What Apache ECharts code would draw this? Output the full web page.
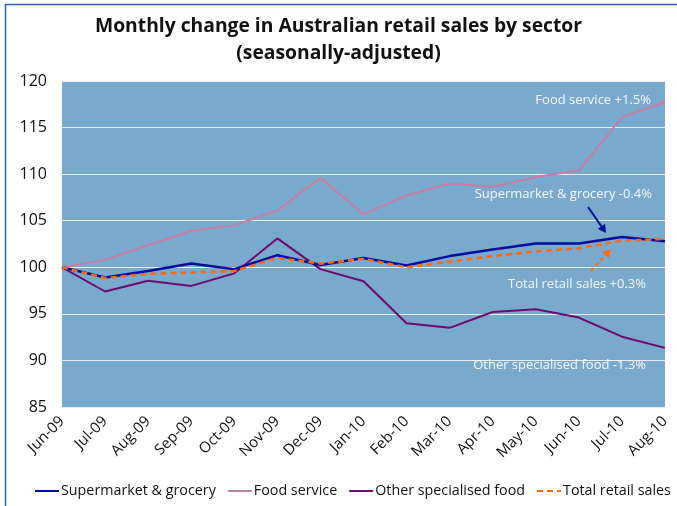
<!DOCTYPE html>
<html><head><meta charset="utf-8">
<script src="https://cdn.jsdelivr.net/npm/echarts@6/dist/echarts.min.js"></script>
<style>html,body{margin:0;padding:0;background:#fff}#c{width:677px;height:506px}</style>
</head><body><div id="c"></div>
<script>
var categories = ['Jun-09','Jul-09','Aug-09','Sep-09','Oct-09','Nov-09','Dec-09','Jan-10','Feb-10','Mar-10','Apr-10','May-10','Jun-10','Jul-10','Aug-10'];
var supermarket = [100, 98.9, 99.6, 100.4, 99.8, 101.3, 100.25, 101.0, 100.2, 101.2, 101.9, 102.55, 102.55, 103.25, 102.8];
var foodService = [100, 100.8, 102.4, 103.9, 104.5, 106.1, 109.6, 105.7, 107.7, 109.0, 108.65, 109.7, 110.4, 116.1, 117.75];
var otherFood = [100, 97.4, 98.55, 98.0, 99.35, 103.1, 99.8, 98.5, 94.0, 93.5, 95.2, 95.5, 94.6, 92.55, 91.35];
var totalRetail = [100, 98.85, 99.3, 99.45, 99.6, 101.0, 100.4, 100.9, 100.0, 100.6, 101.2, 101.7, 102.05, 102.85, 103.05];
var yTicks = [85, 90, 95, 100, 105, 110, 115, 120];
var seriesNames = ['Supermarket & grocery', 'Food service', 'Other specialised food', 'Total retail sales'];
var annotations = ['Food service +1.5%', 'Supermarket & grocery -0.4%', 'Total retail sales +0.3%', 'Other specialised food -1.3%'];

var FONT = '"Open Sans", "Noto Sans", sans-serif';
var chart = echarts.init(document.getElementById('c'));

function arrow(x1, y1, x2, y2, color, dashed) {
  var ang = Math.atan2(y2 - y1, x2 - x1), L = 8, W = 4.5;
  var bx = x2 - L * Math.cos(ang), by = y2 - L * Math.sin(ang);
  var px = -Math.sin(ang) * W, py = Math.cos(ang) * W;
  return [
    {type: 'line', shape: {x1: x1, y1: y1, x2: bx, y2: by}, style: {stroke: color, lineWidth: 2, lineDash: dashed ? [4, 3] : null}, z: 10},
    {type: 'polygon', shape: {points: [[x2, y2], [bx + px, by + py], [bx - px, by - py]]}, style: {fill: color}, z: 10}
  ];
}

var annStyle = {fill: '#f4f7fa', font: '13px ' + FONT, textAlign: 'right', textVerticalAlign: 'middle'};
var graphics = [
  {type: 'rect', shape: {x: 5.5, y: 4.5, width: 720, height: 600}, style: {fill: null, stroke: '#2d62a8', lineWidth: 1.5}, z: 0, silent: true},
  {type: 'text', style: Object.assign({}, annStyle, {text: annotations[0], x: 651, y: 100}), z: 10},
  {type: 'text', style: Object.assign({}, annStyle, {text: annotations[1], x: 652, y: 194}), z: 10},
  {type: 'text', style: Object.assign({}, annStyle, {text: annotations[2], x: 646, y: 284}), z: 10},
  {type: 'text', style: Object.assign({}, annStyle, {text: annotations[3], x: 646, y: 365}), z: 10}
].concat(arrow(588, 207, 606, 233, '#00129a', false)).concat(arrow(591, 271, 611, 249, '#ff6a10', true));

chart.setOption({
  animation: false,
  backgroundColor: '#ffffff',
  title: {
    text: 'Monthly change in Australian retail sales by sector\n(seasonally-adjusted)',
    left: 'center', top: 8,
    textStyle: {fontFamily: FONT, fontSize: 19.3, fontWeight: 'bold', color: '#111', lineHeight: 27}
  },
  legend: {
    top: 479, left: 29, itemWidth: 24, itemHeight: 10, itemGap: 11,
    itemStyle: {opacity: 0},
    textStyle: {fontFamily: FONT, fontSize: 14.3, color: '#111', padding: [0, 0, 0, -3]},
    data: seriesNames
  },
  grid: {left: 62, right: 12, top: 81, bottom: 99, backgroundColor: '#79aacd', show: true, borderWidth: 0},
  xAxis: {
    type: 'category', data: categories, boundaryGap: false,
    axisLine: {show: false}, axisTick: {show: false},
    axisLabel: {rotate: 45, fontFamily: FONT, fontSize: 15, color: '#111', margin: 12, interval: 0}
  },
  yAxis: {
    type: 'value', min: yTicks[0], max: yTicks[yTicks.length - 1], interval: 5,
    axisLine: {show: false}, axisTick: {show: false},
    axisLabel: {fontFamily: FONT, fontSize: 16, color: '#111', margin: 15},
    splitLine: {lineStyle: {color: '#e6eef6', width: 1.2}}
  },
  series: [
    {name: seriesNames[0], type: 'line', data: supermarket, symbol: 'none', z: 4, lineStyle: {color: '#020d9c', width: 2.5}, itemStyle: {color: '#020d9c'}},
    {name: seriesNames[1], type: 'line', data: foodService, symbol: 'none', z: 3, lineStyle: {color: '#c57ea5', width: 2}, itemStyle: {color: '#c57ea5'}},
    {name: seriesNames[2], type: 'line', data: otherFood, symbol: 'none', z: 3, lineStyle: {color: '#6c0a6e', width: 2}, itemStyle: {color: '#6c0a6e'}},
    {name: seriesNames[3], type: 'line', data: totalRetail, symbol: 'none', z: 5, lineStyle: {color: '#ff6a10', width: 2.5, type: [6, 4]}, itemStyle: {color: '#ff6a10'}}
  ],
  graphic: graphics
});
</script></body></html>
